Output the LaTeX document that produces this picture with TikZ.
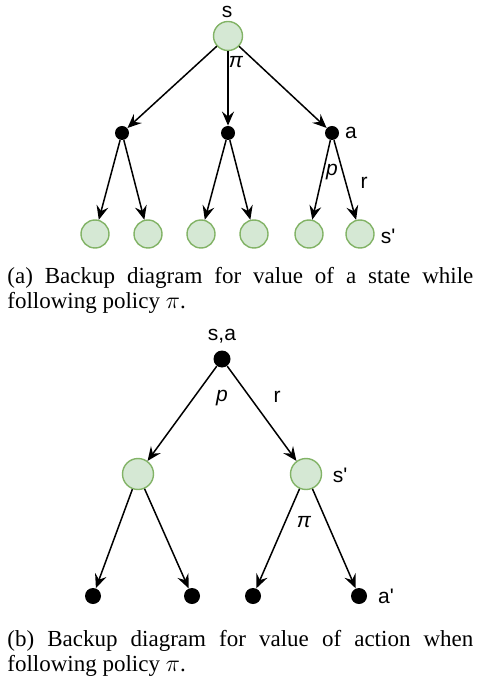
\documentclass[tikz,border=0pt]{standalone}
\usepackage{fontspec}
\setmainfont{Liberation Serif}
\newfontfamily\diagfont{Liberation Sans}
\usepackage{xcolor}
\usepackage{tikz}
\usetikzlibrary{arrows.meta,positioning}

\definecolor{statefill}{HTML}{D5E8D4}
\definecolor{stateline}{HTML}{82B366}

\begin{document}
\begin{tikzpicture}[
    x=0.5pt, y=-0.5pt,
    every node/.style={font=\fontsize{10.5}{12}\selectfont\diagfont},
    statenode/.style={
      circle, draw=stateline, line width=0.7pt, fill=statefill,
      minimum size=14pt, inner sep=0pt
    },
    actnode/.style={
      circle, fill=black, minimum size=7pt, inner sep=0pt
    },
    tag/.style={inner sep=0pt},
    edge/.style={-{Stealth[length=7pt, width=6pt, inset=2.5pt]}, line width=0.75pt, black},
    capnode/.style={
      anchor=north west, inner sep=0pt, text width=233pt, align=justify,
      font=\fontsize{11.5}{12.5}\selectfont\rmfamily
    }
  ]
    \useasboundingbox (0,0) rectangle (480,683);

    % ── (a) value of a state ──
    \node[statenode, minimum size=14.5pt] (s) at (228,36) {};
    \node[tag] (lbls) at (227,12) {s};

    \node[actnode] (a1) at (122,133) {};
    \node[actnode] (a2) at (228,133) {};
    \node[actnode] (a3) at (332,133) {};
    \node[tag] (lbla) at (351,133) {a};

    \node[statenode] (n1) at (95,234) {};
    \node[statenode] (n2) at (148,234) {};
    \node[statenode] (n3) at (201,234) {};
    \node[statenode] (n4) at (254,234) {};
    \node[statenode] (n5) at (309,234) {};
    \node[statenode] (n6) at (360,234) {};
    \node[tag] (lblsp) at (388,236) {s'};

    \draw[edge] (s) -- (a1);
    \draw[edge, line width=1pt] (s) -- (a2);
    \draw[edge] (s) -- (a3);
    \draw[edge] (a1) -- (n1);
    \draw[edge] (a1) -- (n2);
    \draw[edge] (a2) -- (n3);
    \draw[edge] (a2) -- (n4);
    \draw[edge] (a3) -- (n5);
    \draw[edge] (a3) -- (n6);

    \node[tag] (lblpi) at (236,62) {\itshape π};
    \node[tag] (lblp) at (332,172) {\itshape p};
    \node[tag] (lblr) at (364,183) {r};

    \node[capnode] (capa) at (7,267)
      {(a) Backup diagram for value of a state while\linebreak following policy $\pi$.};

    % ── (b) value of an action ──
    \node[tag] (lblsa) at (222,336) {s,a};
    \node[actnode, minimum size=8.5pt] (sa) at (222,359) {};

    \node[statenode, minimum size=15.5pt] (m1) at (138,474) {};
    \node[statenode, minimum size=15.5pt] (m2) at (306,474) {};
    \node[tag] (lblsp2) at (340,475) {s'};

    \node[actnode, minimum size=8pt] (b1) at (93,596) {};
    \node[actnode, minimum size=8pt] (b2) at (192,596) {};
    \node[actnode, minimum size=8pt] (b3) at (253,596) {};
    \node[actnode, minimum size=8pt] (b4) at (359,596) {};
    \node[tag] (lblap) at (386,596) {a'};

    \draw[edge] (sa) -- (m1);
    \draw[edge] (sa) -- (m2);
    \draw[edge] (m1) -- (b1);
    \draw[edge] (m1) -- (b2);
    \draw[edge] (m2) -- (b3);
    \draw[edge] (m2) -- (b4);

    \node[tag] (lblp2) at (222,398) {\itshape p};
    \node[tag] (lblr2) at (277,397) {r};
    \node[tag] (lblpi2) at (304,522) {\itshape π};

    \node[capnode] (capb) at (7,630)
      {(b) Backup diagram for value of action when\linebreak following policy $\pi$.};

  \end{tikzpicture}
\end{document}
